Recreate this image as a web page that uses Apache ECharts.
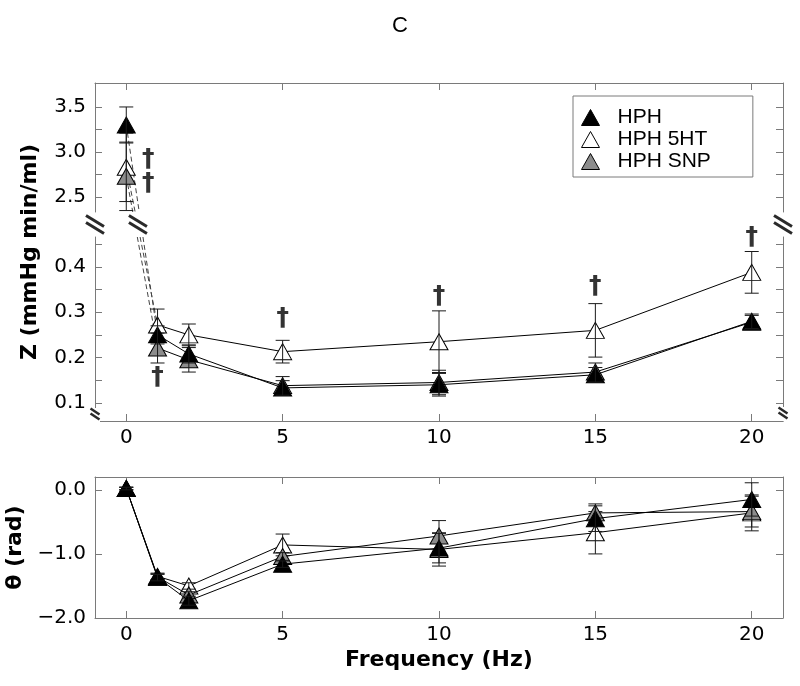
<!DOCTYPE html>
<html><head><meta charset="utf-8">
<script src="https://cdn.jsdelivr.net/npm/echarts@6/dist/echarts.min.js"></script>
<style>html,body{margin:0;padding:0;background:#fff}#c{width:800px;height:686px}</style>
</head><body><div id="c"></div>
<script>
// ---------- data ----------
const freq = [0, 1, 2, 5, 10, 15, 20];
const seriesNames = ['HPH', 'HPH 5HT', 'HPH SNP'];

const zHPH      = [3.30, 0.250, 0.208, 0.133, 0.140, 0.162, 0.280];
const zHPHErr   = [0.20, 0.020, 0.020, 0.016, 0.025, 0.016, 0.016];
const z5HT      = [2.83, 0.272, 0.250, 0.213, 0.235, 0.260, 0.388];
const z5HTErr   = [0.38, 0.035, 0.024, 0.025, 0.068, 0.059, 0.046];
const zSNP      = [2.73, 0.221, 0.195, 0.138, 0.145, 0.168, 0.278];
const zSNPErr   = [0.38, 0.033, 0.027, 0.020, 0.027, 0.020, 0.015];

const thHPH     = [0.02, -1.37, -1.73, -1.16, -0.91, -0.45, -0.15];
const thHPHErr  = [0.02, 0.05, 0.07, 0.05, 0.23, 0.20, 0.26];
const th5HT     = [0.02, -1.35, -1.50, -0.86, -0.93, -0.67, -0.36];
const th5HTErr  = [0.02, 0.05, 0.05, 0.17, 0.26, 0.33, 0.28];
const thSNP     = [0.02, -1.36, -1.64, -1.04, -0.72, -0.36, -0.34];
const thSNPErr  = [0.02, 0.05, 0.05, 0.06, 0.24, 0.14, 0.24];

// significance daggers [frequency, value]
const daggersUpper = [[0.7, 2.92], [0.7, 2.65]];
const daggersLower = [[1, 0.155], [5, 0.287], [10, 0.334], [15, 0.356], [20, 0.466]];

// axis ticks / labels
const xTicks = [0, 5, 10, 15, 20];
const zUpperTicks = [2.5, 2.75, 3.0, 3.25, 3.5];
const zUpperLabels = [2.5, 3.0, 3.5];
const zLowerTicks = [0.1, 0.15, 0.2, 0.25, 0.3, 0.35, 0.4, 0.45];
const zLowerLabels = [0.1, 0.2, 0.3, 0.4];
const thTicks = [-1, 0];
const thLabels = [-2, -1, 0];
const xRange = [-1, 21];
const zUpperRange = [2.334, 3.766];
const zLowerRange = [0.06, 0.466];
const thRange = [-2.0, 0.2];

// ---------- styling ----------
const AX = '#7a7a7a';
const FONT = 'DejaVu Sans';
const TICKFS = 20;
const fills = ['#000000', '#ffffff', '#8c8c8c'];
const zOrder = [6, 2, 4];           // black on top, white at bottom
const groups = [
  {z: zHPH, ze: zHPHErr, t: thHPH, te: thHPHErr},
  {z: z5HT, ze: z5HTErr, t: th5HT, te: th5HTErr},
  {z: zSNP, ze: zSNPErr, t: thSNP, te: thSNPErr}
];
const L = 95, R = 17;

function xAxis(gridIndex, position) {
  return {
    type: 'value', gridIndex, position, min: xRange[0], max: xRange[1],
    splitLine: {show: false},
    axisLine: {show: true, onZero: false, lineStyle: {color: AX, width: 1}},
    axisTick: {show: true, inside: true, length: 7, lineStyle: {color: AX}, customValues: xTicks},
    axisLabel: {show: position === 'bottom', customValues: xTicks, margin: 7,
      color: '#000', fontFamily: FONT, fontSize: TICKFS}
  };
}
function yAxis(gridIndex, position, range, ticks, labels, fmt) {
  return {
    type: 'value', gridIndex, position, min: range[0], max: range[1],
    splitLine: {show: false},
    axisLine: {show: true, onZero: false, lineStyle: {color: AX, width: 1}},
    axisTick: {show: true, inside: true, length: 7, lineStyle: {color: AX}, customValues: ticks},
    axisLabel: {show: position === 'left', customValues: labels, margin: 9,
      color: '#000', fontFamily: FONT, fontSize: TICKFS, formatter: fmt}
  };
}
const fmtZ = v => v.toFixed(1);
const fmtTh = v => (v < 0 ? '\u2212' + Math.abs(v).toFixed(1) : v.toFixed(1));

function errRender(params, api) {
  const x = api.value(0), y = api.value(1), e = api.value(2);
  const t = api.coord([x, y + e]), b = api.coord([x, y - e]);
  const w = 7;
  const style = {stroke: '#1a1a1a', lineWidth: 1};
  return {type: 'group', children: [
    {type: 'line', shape: {x1: t[0], y1: t[1], x2: b[0], y2: b[1]}, style},
    {type: 'line', shape: {x1: t[0] - w, y1: t[1], x2: t[0] + w, y2: t[1]}, style},
    {type: 'line', shape: {x1: b[0] - w, y1: b[1], x2: b[0] + w, y2: b[1]}, style}
  ]};
}

const symStyle = i => ({color: fills[i], borderColor: '#000', borderWidth: 1, opacity: 1});
const series = [];
groups.forEach((g, i) => {
  const zo = zOrder[i];
  // Z upper segment (f = 0)
  series.push({
    id: 'zu-' + i, name: seriesNames[i], type: 'scatter', xAxisIndex: 0, yAxisIndex: 0, z: zo,
    symbol: 'triangle', symbolSize: [18, 16], itemStyle: symStyle(i),
    data: [[freq[0], g.z[0]]]
  });
  series.push({
    type: 'custom', xAxisIndex: 0, yAxisIndex: 0, z: zo + 1, renderItem: errRender,
    encode: {x: 0, y: 1}, data: [[freq[0], g.z[0], g.ze[0]]]
  });
  // Z lower segment (f >= 1)
  series.push({
    id: 'zl-' + i, name: seriesNames[i], type: 'line', xAxisIndex: 1, yAxisIndex: 2, z: zo,
    symbol: 'triangle', symbolSize: [18, 16], itemStyle: symStyle(i),
    lineStyle: {color: '#000', width: 1},
    data: freq.slice(1).map((f, k) => [f, g.z[k + 1]])
  });
  series.push({
    type: 'custom', xAxisIndex: 1, yAxisIndex: 2, z: zo + 1, renderItem: errRender,
    encode: {x: 0, y: 1}, data: freq.slice(1).map((f, k) => [f, g.z[k + 1], g.ze[k + 1]])
  });
  // theta
  series.push({
    name: seriesNames[i], type: 'line', xAxisIndex: 2, yAxisIndex: 4, z: zo,
    symbol: 'triangle', symbolSize: [18, 16], itemStyle: symStyle(i),
    lineStyle: {color: '#000', width: 1},
    data: freq.map((f, k) => [f, g.t[k]])
  });
  series.push({
    type: 'custom', xAxisIndex: 2, yAxisIndex: 4, z: zo + 1, renderItem: errRender,
    encode: {x: 0, y: 1}, data: freq.map((f, k) => [f, g.t[k], g.te[k]])
  });
});
const daggerLabel = {show: true, position: 'inside', formatter: '\u2020', color: '#000',
  fontFamily: FONT, fontSize: 25, fontWeight: 'bold'};
series.push({type: 'scatter', xAxisIndex: 0, yAxisIndex: 0, z: 10, symbol: 'circle', symbolSize: 1,
  itemStyle: {color: 'rgba(0,0,0,0)'}, label: daggerLabel, data: daggersUpper, silent: true});
series.push({type: 'scatter', xAxisIndex: 1, yAxisIndex: 2, z: 10, symbol: 'circle', symbolSize: 1,
  itemStyle: {color: 'rgba(0,0,0,0)'}, label: daggerLabel, data: daggersLower, silent: true});

function breakMark(id, cx, cy, w, h, sep, lw) {
  const st = {stroke: '#2a2a2a', lineWidth: lw};
  return [
    {id: id + 'a', type: 'line', z: 20, shape: {x1: cx - w / 2, y1: cy - sep / 2 - h / 2, x2: cx + w / 2, y2: cy - sep / 2 + h / 2}, style: st},
    {id: id + 'b', type: 'line', z: 20, shape: {x1: cx - w / 2, y1: cy + sep / 2 - h / 2, x2: cx + w / 2, y2: cy + sep / 2 + h / 2}, style: st}
  ];
}

const option = {
  animation: false,
  backgroundColor: '#fff',
  title: {text: 'C', left: 'center', top: 10,
    textStyle: {fontFamily: 'Liberation Sans', fontSize: 22, fontWeight: 'normal', color: '#000'}},
  legend: {
    orient: 'vertical', left: 573, top: 96, itemWidth: 18, itemHeight: 16, itemGap: 1,
    padding: [11, 42, 5, 8], borderColor: AX, borderWidth: 1, backgroundColor: '#fff', z: 30,
    textStyle: {fontFamily: 'Liberation Sans', fontSize: 21, color: '#000', lineHeight: 20, padding: [0, 0, 0, 13]},
    data: seriesNames.map((n, i) => ({name: n, icon: 'triangle', itemStyle: symStyle(i)})),
    selectedMode: true
  },
  grid: [
    {left: L, right: R, top: 83, height: 129, outerBoundsMode: 'none'},
    {left: L, right: R, top: 237, height: 184, outerBoundsMode: 'none'},
    {left: L, right: R, top: 477, height: 141, outerBoundsMode: 'none'}
  ],
  xAxis: [
    xAxis(0, 'top'),
    xAxis(1, 'bottom'),
    Object.assign(xAxis(2, 'bottom'), {name: 'Frequency (Hz)', nameLocation: 'middle', nameGap: 31,
      nameTextStyle: {fontFamily: FONT, fontSize: 22, fontWeight: 'bold', color: '#000'}}),
    xAxis(2, 'top')
  ],
  yAxis: [
    yAxis(0, 'left', zUpperRange, zUpperTicks, zUpperLabels, fmtZ),
    yAxis(0, 'right', zUpperRange, zUpperTicks, zUpperLabels, fmtZ),
    yAxis(1, 'left', zLowerRange, zLowerTicks, zLowerLabels, fmtZ),
    yAxis(1, 'right', zLowerRange, zLowerTicks, zLowerLabels, fmtZ),
    Object.assign(yAxis(2, 'left', thRange, thTicks, thLabels, fmtTh), {name: '\u03b8 (rad)',
      nameLocation: 'middle', nameGap: 54,
      nameTextStyle: {fontFamily: FONT, fontSize: 22, fontWeight: 'bold', color: '#000'}}),
    yAxis(2, 'right', thRange, thTicks, thLabels, fmtTh)
  ],
  graphic: [
    {id: 'zname', type: 'text', x: 30, y: 252, rotation: Math.PI / 2,
      style: {text: 'Z (mmHg min/ml)', font: 'bold 22px "DejaVu Sans"', fill: '#000',
        textAlign: 'center', textVerticalAlign: 'middle'}}
  ],
  series
};

const chart = echarts.init(document.getElementById('c'), null, {renderer: 'canvas'});
chart.setOption(option);

// dashed connectors f=0 -> f=1 across the axis break, plus break marks
const yGapTop = chart.convertToPixel({yAxisIndex: 0}, zUpperRange[0]);
const yGapBot = chart.convertToPixel({yAxisIndex: 2}, zLowerRange[1]);
const yMid = (yGapTop + yGapBot) / 2;
const extra = [];
const midXs = [];
groups.forEach((g, i) => {
  const p0 = chart.convertToPixel({seriesId: 'zu-' + i}, [freq[0], g.z[0]]);
  const p1 = chart.convertToPixel({seriesId: 'zl-' + i}, [freq[1], g.z[1]]);
  const xAt = y => p0[0] + (p1[0] - p0[0]) * (y - p0[1]) / (p1[1] - p0[1]);
  const st = {stroke: '#444', lineWidth: 1, lineDash: [5, 3]};
  extra.push({id: 'dA' + i, type: 'line', z: 1, shape: {x1: p0[0], y1: p0[1], x2: xAt(yGapTop), y2: yGapTop}, style: st});
  extra.push({id: 'dB' + i, type: 'line', z: 1, shape: {x1: xAt(yGapBot), y1: yGapBot, x2: p1[0], y2: p1[1]}, style: st});
  midXs.push(xAt(yMid));
});
const xLeft = chart.convertToPixel({xAxisIndex: 1}, xRange[0]);
const xRight = chart.convertToPixel({xAxisIndex: 1}, xRange[1]);
const yBottom = chart.convertToPixel({yAxisIndex: 2}, zLowerRange[0]);
const midX = midXs.reduce((a, b) => a + b, 0) / midXs.length;
extra.push(...breakMark('bL', xLeft, yMid, 18, 11, 7, 3));
extra.push(...breakMark('bR', xRight, yMid, 18, 11, 7, 3));
extra.push(...breakMark('bM', midX, yMid, 18, 11, 7, 3));
extra.push({id: 'cwL', type: 'rect', z: 19, shape: {x: xLeft - 3, y: yBottom - 13, width: 8, height: 14}, style: {fill: '#fff'}});
extra.push({id: 'cwR', type: 'rect', z: 19, shape: {x: xRight - 5, y: yBottom - 14, width: 8, height: 14}, style: {fill: '#fff'}});
extra.push(...breakMark('cL', xLeft, yBottom - 7, 9, 6, 5, 2.5));
extra.push(...breakMark('cR', xRight, yBottom - 8, 9, 6, 5, 2.5));
chart.setOption({graphic: option.graphic.concat(extra)});
</script>
</body></html>
